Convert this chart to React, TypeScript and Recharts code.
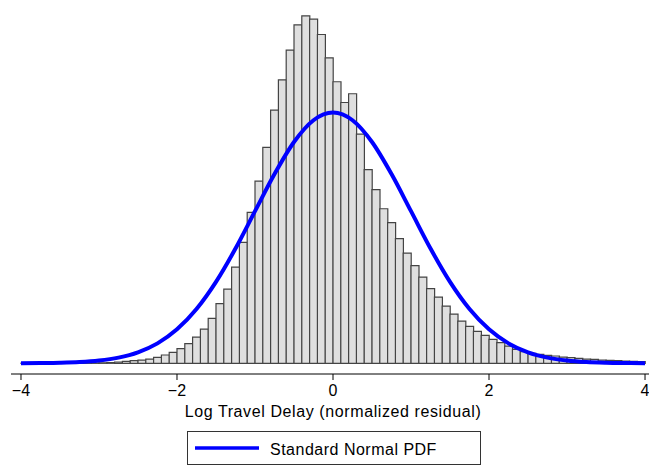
import { Bar, ComposedChart, Legend, Line, XAxis, YAxis, Label } from "recharts"

// histogram: 80 bins of width 0.1 from -4 to 4 (density)
const BIN_START = -4
const BIN_WIDTH = 0.1
const binDensity = [
    0.0002, 0.0002, 0.0002, 0.0002, 0.0003, 0.0003, 0.0003, 0.0005, 0.0005, 0.0006,
    0.0008, 0.0011, 0.0021, 0.0032, 0.0043, 0.0052, 0.0068, 0.0095, 0.0132, 0.0175,
    0.0234, 0.0313, 0.0418, 0.0545, 0.0715, 0.0949, 0.1181, 0.1531, 0.1924, 0.2401,
    0.2898, 0.3434, 0.4027, 0.451, 0.4981, 0.5385, 0.5528, 0.5474, 0.5231, 0.486,
    0.4479, 0.4149, 0.4288, 0.3645, 0.308, 0.2762, 0.2459, 0.2237, 0.1983, 0.1754,
    0.1553, 0.1372, 0.1188, 0.1054, 0.0911, 0.0784, 0.0672, 0.0588, 0.0509, 0.0445,
    0.0382, 0.0329, 0.0275, 0.0223, 0.0186, 0.0159, 0.0143, 0.0127, 0.0116, 0.01,
    0.0091, 0.0079, 0.0068, 0.0064, 0.0052, 0.0048, 0.0043, 0.0037, 0.0032, 0.0027,
]

// standard normal pdf curve
const pdfX = [
    -4, -3.75, -3.5, -3.25, -3, -2.75, -2.5, -2.25, -2, -1.75, -1.5, -1.25, -1, -0.75, -0.5, -0.25,
    0, 0.25, 0.5, 0.75, 1, 1.25, 1.5, 1.75, 2, 2.25, 2.5, 2.75, 3, 3.25, 3.5, 3.75, 4,
]
const pdfY = [
    0.0001, 0.0004, 0.0009, 0.002, 0.0044, 0.0091, 0.0175, 0.0317, 0.054, 0.0863, 0.1295, 0.1826,
    0.242, 0.3011, 0.3521, 0.3867, 0.3989, 0.3867, 0.3521, 0.3011, 0.242, 0.1826, 0.1295, 0.0863,
    0.054, 0.0317, 0.0175, 0.0091, 0.0044, 0.002, 0.0009, 0.0004, 0.0001,
]

const xTicks = [-4, -2, 0, 2, 4]
const X_DOMAIN: [number, number] = [-4.128, 4.051]

const histData = binDensity.map((d, i) => ({
    x: BIN_START + BIN_WIDTH * (i + 0.5),
    density: d,
}))
const pdfData = pdfX.map((x, i) => ({ px: x, pdf: pdfY[i] }))

const FONT = "'Liberation Sans', Arial, Helvetica, sans-serif"

function LegendBox() {
    return (
        <div
            style={{
                width: 292,
                height: 32,
                border: "1px solid #333",
                background: "#fff",
                display: "flex",
                alignItems: "center",
                fontFamily: FONT,
            }}
        >
            <svg width={64} height={6} style={{ marginLeft: 7 }}>
                <line x1={0} y1={3} x2={64} y2={3} stroke="#0000ff" strokeWidth={3.5} />
            </svg>
            <span style={{ marginLeft: 11, marginTop: 4, fontSize: 16, letterSpacing: 0.5, color: "#000" }}>
                Standard Normal PDF
            </span>
        </div>
    )
}

export default function App() {
    return (
        <div style={{ position: "absolute", left: 0, top: 0, width: 649, height: 466, background: "#fff" }}>
            <ComposedChart
                width={649}
                height={466}
                data={histData}
                margin={{ top: 5, right: 0, left: 11, bottom: 0 }}
                barCategoryGap={0}
                barGap={0}
                style={{ fontFamily: FONT }}
            >
                <XAxis
                    xAxisId="hist"
                    dataKey="x"
                    type="number"
                    domain={X_DOMAIN}
                    allowDataOverflow
                    ticks={xTicks}
                    tickFormatter={(v: number) => (v < 0 ? `\u2212${Math.abs(v)}` : `${v}`)}
                    tick={{ fill: "#000", fontSize: 16 }}
                    tickSize={6}
                    tickMargin={5}
                    axisLine={{ stroke: "#000", strokeWidth: 1 }}
                    tickLine={{ stroke: "#000", strokeWidth: 1 }}
                    height={92}
                >
                    <Label
                        value="Log Travel Delay (normalized residual)"
                        position="insideBottom"
                        offset={49}
                        dx={3}
                        style={{ fill: "#000", fontSize: 16, letterSpacing: 0.6 }}
                    />
                </XAxis>
                <XAxis xAxisId="pdf" dataKey="px" type="number" domain={X_DOMAIN} allowDataOverflow hide />
                <YAxis
                    type="number"
                    domain={[-0.017, 0.57]}
                    allowDataOverflow
                    width={0}
                    tick={false}
                    tickLine={false}
                    axisLine={{ stroke: "#000", strokeWidth: 1 }}
                />
                <Bar
                    xAxisId="hist"
                    dataKey="density"
                    fill="#dfdfdf"
                    stroke="#444"
                    strokeWidth={1.2}
                    isAnimationActive={false}
                    legendType="none"
                />
                <Line
                    xAxisId="pdf"
                    data={pdfData}
                    dataKey="pdf"
                    type="monotone"
                    stroke="#0000ff"
                    strokeWidth={4}
                    dot={false}
                    activeDot={false}
                    isAnimationActive={false}
                />
                <Legend
                    layout="horizontal"
                    verticalAlign="middle"
                    align="center"
                    wrapperStyle={{ left: 187, top: 431, width: 294, height: 34 }}
                    content={() => <LegendBox />}
                />
            </ComposedChart>
        </div>
    )
}
